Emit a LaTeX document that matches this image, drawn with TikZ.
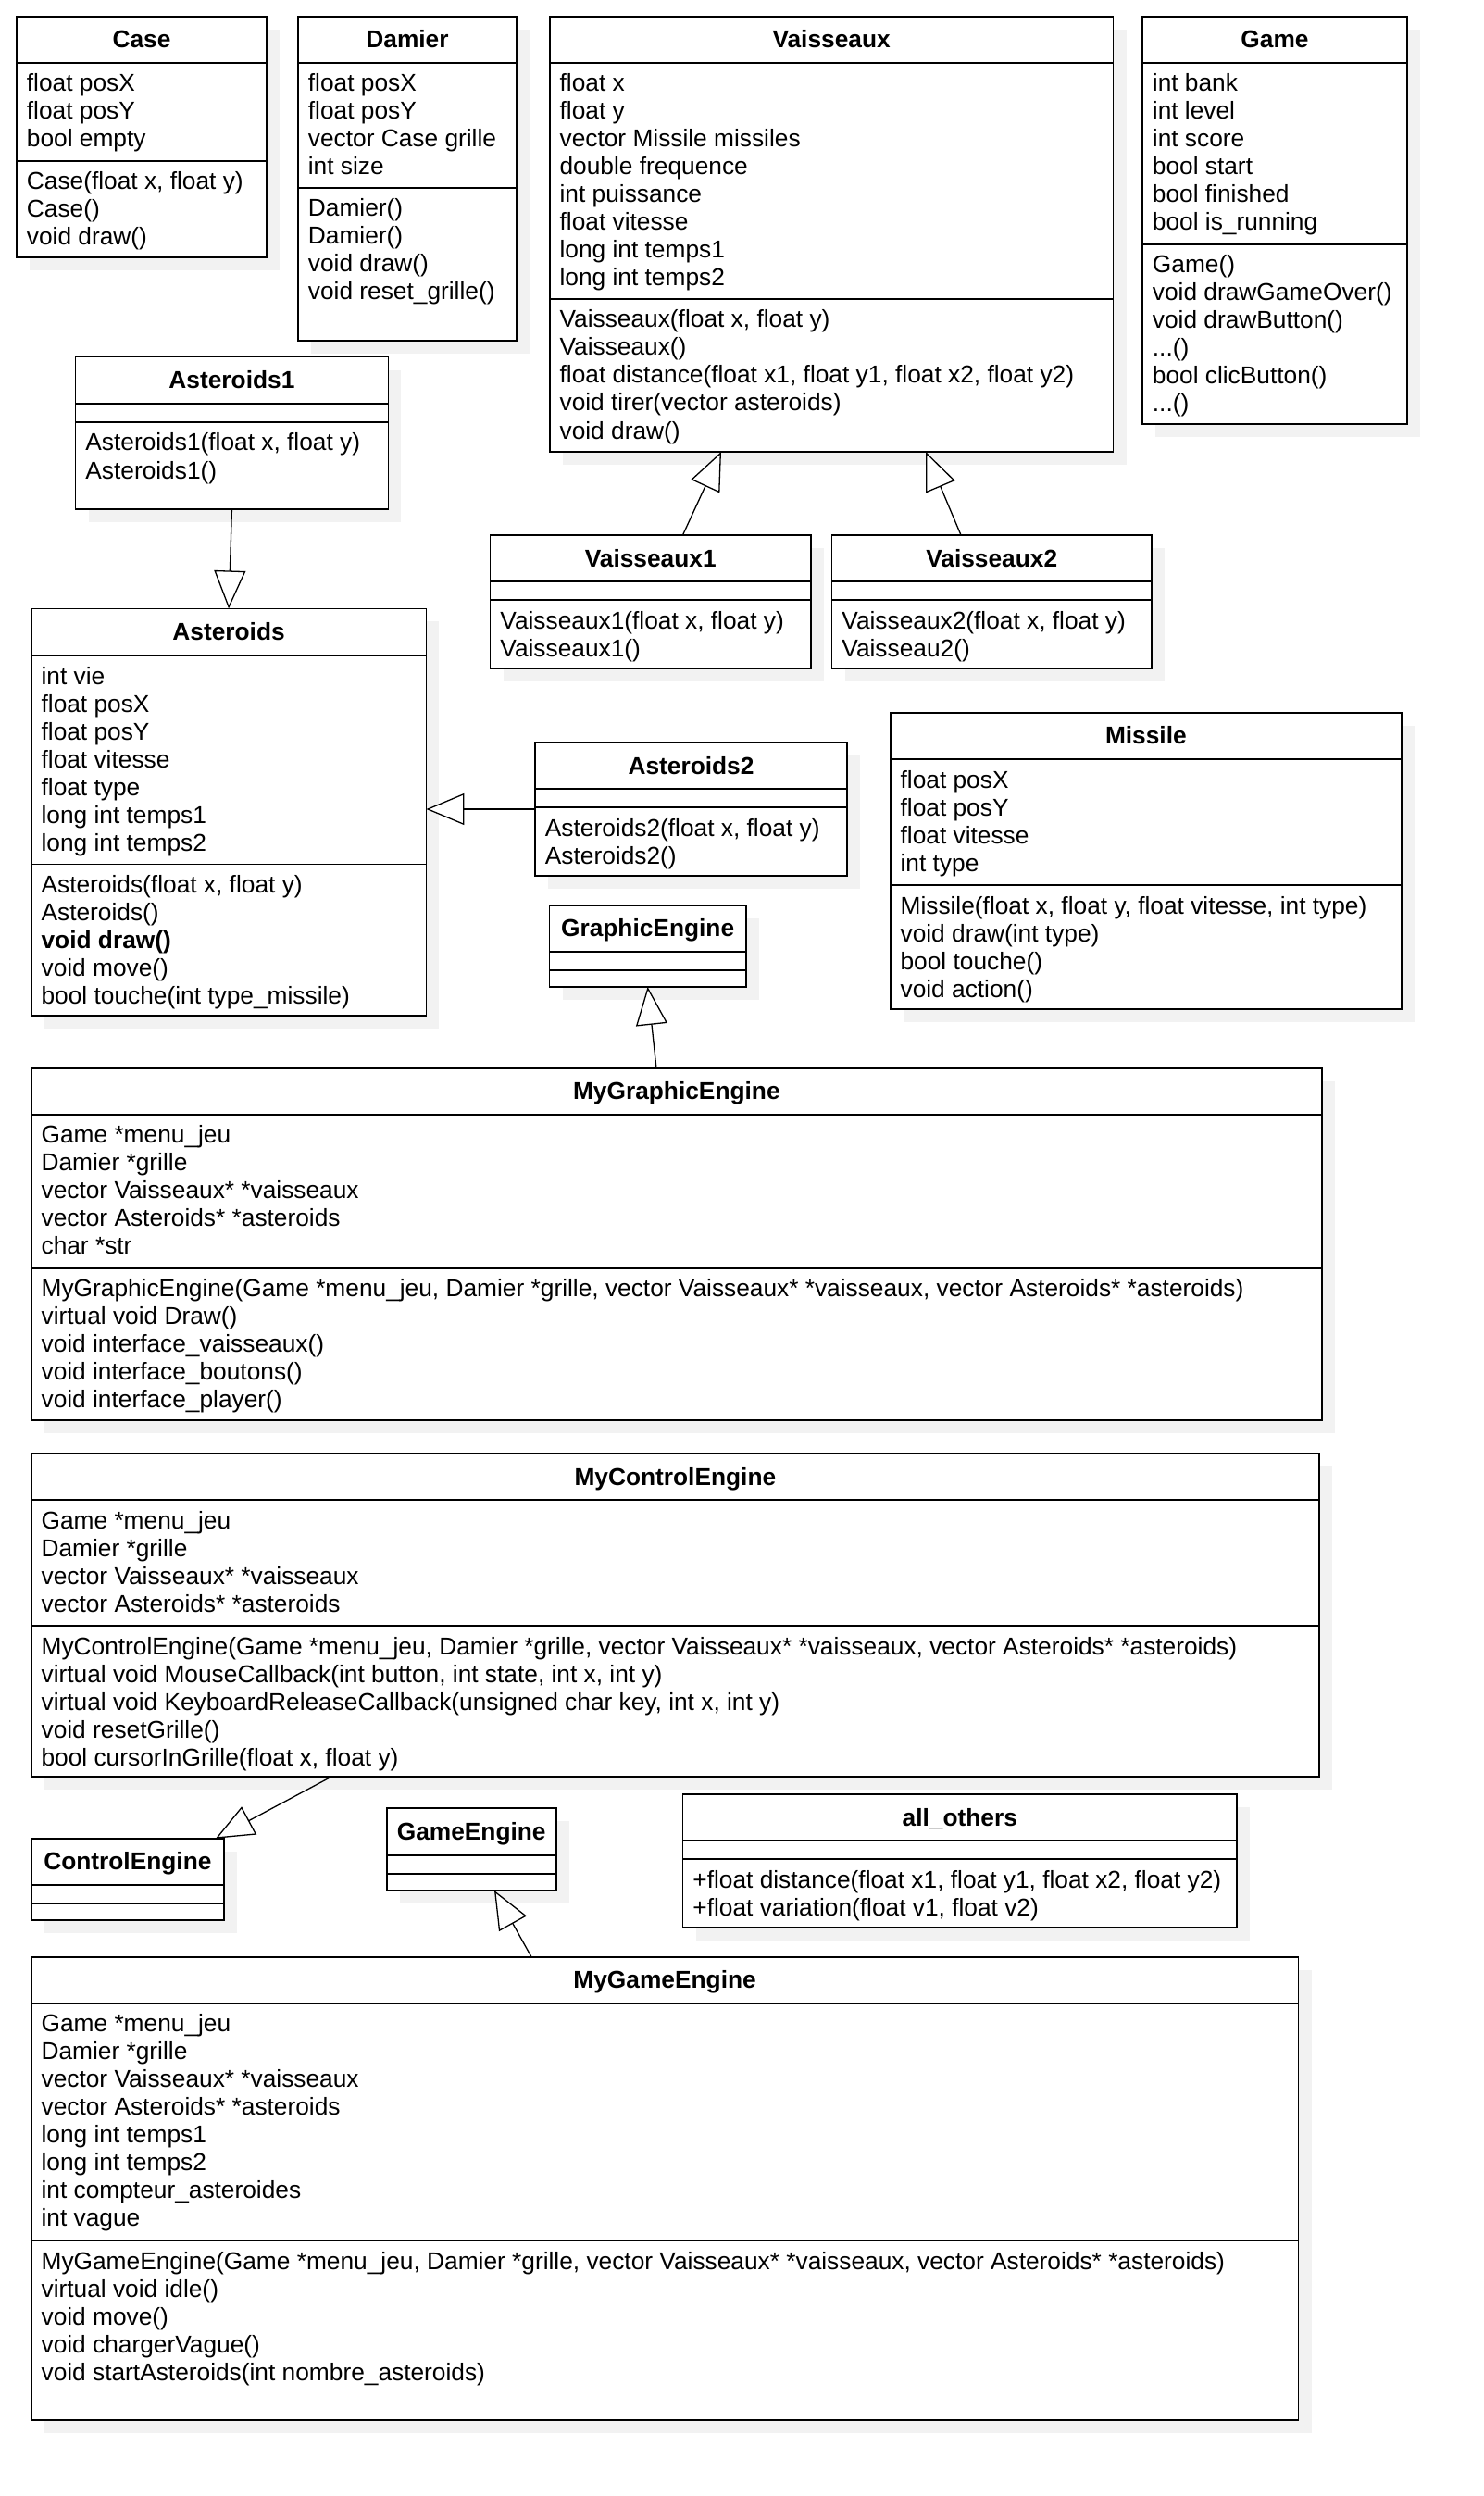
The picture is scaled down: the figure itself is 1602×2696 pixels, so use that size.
\documentclass[tikz,border=0pt]{standalone}
\usepackage{fontspec}
\setmainfont{Liberation Sans}
\usetikzlibrary{arrows.meta,calc,fit,shadows}

\newcommand\umlfont{\fontsize{13.15pt}{15pt}\selectfont}

\tikzset{
  classbox/.style={draw=black, fill=white, line width=0.9pt, inner sep=0pt, outer sep=0pt,
    drop shadow={shadow xshift=7pt, shadow yshift=-7pt, fill=black!5, opacity=1}},
  sepline/.style={draw=black, line width=0.9pt},
  ctitle/.style={font=\umlfont\bfseries, anchor=base, inner sep=0pt},
  member/.style={font=\umlfont, anchor=base west, inner sep=0pt},
  inherit/.style={draw=black, line width=0.65pt,
    -{Triangle[fill=white, length=20.5pt, width=17pt]}},
}

% three dots typed as separate full stops
\newcommand\threedots{.\relax.\relax.}

% class box: name, x1, y1, x2, y2, first separator, second separator, title
\newcommand\umlclass[8]{%
  \node[classbox, fit={(#2,#3) (#4,#5)}] (#1) {};
  \draw[sepline] (#2,#6) -- (#4,#6);
  \draw[sepline] (#2,#7) -- (#4,#7);
  \node[ctitle] (#1-title) at ({(#2+#4)/2},{(#3+#6)/2+9}) {#8};
}
% one compartment of members: name prefix, x1, separator y, list of lines
\newcommand\umlmembers[4]{%
  \foreach \txt [count=\k from 0] in {#4}
    \node[member] (#1\k) at ({#2+10.5},{#3+31+30*\k}) {\txt};
}

\begin{document}
\begin{tikzpicture}[x=0.5pt, y=-0.5pt, font=\umlfont]
\useasboundingbox (0,0) rectangle (1602,2696);

% ---- top row
\umlclass{case}{18}{17.7}{288}{278}{68}{174}{Case}
\umlmembers{case-a}{18}{68}{float posX, float posY, bool empty}
\umlmembers{case-m}{18}{174}{{Case(float x, float y)}, Case(), void draw()}

\umlclass{damier}{322}{17.7}{558}{368}{68}{203}{Damier}
\umlmembers{damier-a}{322}{68}{float posX, float posY, vector Case grille, int size}
\umlmembers{damier-m}{322}{203}{Damier(), Damier(), void draw(), void reset\_grille()}

\umlclass{vais}{593.7}{17.7}{1202.5}{488}{68}{323}{Vaisseaux}
\umlmembers{vais-a}{593.7}{68}{float x, float y, vector Missile missiles, double frequence,
  int puissance, float vitesse, long int temps1, long int temps2}
\umlmembers{vais-m}{593.7}{323}{{Vaisseaux(float x, float y)}, Vaisseaux(),
  {float distance(float x1, float y1, float x2, float y2)}, void tirer(vector asteroids), void draw()}

\umlclass{game}{1234}{17.7}{1520}{458}{68}{264}{Game}
\umlmembers{game-a}{1234}{68}{int bank, int level, int score, bool start, bool finished, bool is\_running}
\umlmembers{game-m}{1234}{264}{Game(), void drawGameOver(), void drawButton(), {\threedots()},
  bool clicButton(), {\threedots()}}

% ---- asteroids and ships
\umlclass{ast1}{81.5}{385.6}{419.4}{550}{436}{456}{Asteroids1}
\umlmembers{ast1-m}{81.5}{456}{{Asteroids1(float x, float y)}, Asteroids1()}

\umlclass{v1}{529.5}{578}{876}{722.3}{628}{648}{Vaisseaux1}
\umlmembers{v1-m}{529.5}{648}{{Vaisseaux1(float x, float y)}, Vaisseaux1()}

\umlclass{v2}{898.5}{578}{1244}{722.3}{628}{648}{Vaisseaux2}
\umlmembers{v2-m}{898.5}{648}{{Vaisseaux2(float x, float y)}, Vaisseau2()}

\umlclass{ast}{33.7}{657.4}{460.4}{1097}{708}{933.5}{Asteroids}
\umlmembers{ast-a}{33.7}{708}{int vie, float posX, float posY, float vitesse, float type,
  long int temps1, long int temps2}
\umlmembers{ast-m}{33.7}{933.5}{{Asteroids(float x, float y)}, Asteroids(), \textbf{void draw()},
  void move(), bool touche(int type\_missile)}

\umlclass{ast2}{578}{802}{915}{946}{852}{872}{Asteroids2}
\umlmembers{ast2-m}{578}{872}{{Asteroids2(float x, float y)}, Asteroids2()}

\umlclass{missile}{961.7}{769.7}{1514}{1089.6}{820}{956}{Missile}
\umlmembers{missile-a}{961.7}{820}{float posX, float posY, float vitesse, int type}
\umlmembers{missile-m}{961.7}{956}{{Missile(float x, float y, float vitesse, int type)},
  void draw(int type), bool touche(), void action()}

\umlclass{ge}{593.5}{977.7}{805.7}{1066}{1028}{1047.7}{GraphicEngine}

% ---- engines
\umlclass{mge}{33.7}{1153.7}{1428}{1534}{1203.7}{1369.7}{MyGraphicEngine}
\umlmembers{mge-a}{33.7}{1203.7}{Game *menu\_jeu, Damier *grille, vector Vaisseaux* *vaisseaux,
  vector Asteroids* *asteroids, char *str}
\umlmembers{mge-m}{33.7}{1369.7}{{MyGraphicEngine(Game *menu\_jeu, Damier *grille, vector Vaisseaux* *vaisseaux, vector Asteroids* *asteroids)},
  virtual void Draw(), void interface\_vaisseaux(), void interface\_boutons(), void interface\_player()}

\umlclass{mce}{33.7}{1570}{1425}{1919.3}{1620}{1756}{MyControlEngine}
\umlmembers{mce-a}{33.7}{1620}{Game *menu\_jeu, Damier *grille, vector Vaisseaux* *vaisseaux,
  vector Asteroids* *asteroids}
\umlmembers{mce-m}{33.7}{1756}{{MyControlEngine(Game *menu\_jeu, Damier *grille, vector Vaisseaux* *vaisseaux, vector Asteroids* *asteroids)},
  {virtual void MouseCallback(int button, int state, int x, int y)},
  {virtual void KeyboardReleaseCallback(unsigned char key, int x, int y)},
  void resetGrille(), {bool cursorInGrille(float x, float y)}}

\umlclass{ce}{33.7}{1985.7}{242}{2073.7}{2035.7}{2055.7}{ControlEngine}
\umlclass{gee}{417.8}{1953.3}{600.6}{2042}{2003.7}{2023.7}{GameEngine}

\umlclass{others}{737.5}{1938}{1336}{2082}{1988}{2008}{all\_others}
\umlmembers{others-m}{737.5}{2008}{{+float distance(float x1, float y1, float x2, float y2)},
  {+float variation(float v1, float v2)}}

\umlclass{mgame}{33.7}{2113.7}{1402.5}{2614}{2163.7}{2420}{MyGameEngine}
\umlmembers{mgame-a}{33.7}{2163.7}{Game *menu\_jeu, Damier *grille, vector Vaisseaux* *vaisseaux,
  vector Asteroids* *asteroids, long int temps1, long int temps2, int compteur\_asteroides, int vague}
\umlmembers{mgame-m}{33.7}{2420}{{MyGameEngine(Game *menu\_jeu, Damier *grille, vector Vaisseaux* *vaisseaux, vector Asteroids* *asteroids)},
  virtual void idle(), void move(), void chargerVague(), void startAsteroids(int nombre\_asteroids)}

% ---- generalisations
\draw[inherit] (ast1.south) -- (ast.north);
\draw[inherit] (ast2.west) -- (ast2.west -| ast.east);
\draw[inherit] ($(v1.north west)+(208,0)$) -- ($(vais.south west)+(185.3,0)$);
\draw[inherit] ($(v2.north west)+(139.5,0)$) -- ($(vais.south west)+(406.3,0)$);
\draw[inherit] ($(mge.north west)+(675.3,0)$) -- (ge.south);
\draw[inherit] ($(mce.south west)+(323.8,0)$) -- ($(ce.north east)+(-9,0)$);
\draw[inherit] ($(mgame.north west)+(540.3,0)$) -- ($(gee.south west)+(116.2,0)$);
\end{tikzpicture}
\end{document}
